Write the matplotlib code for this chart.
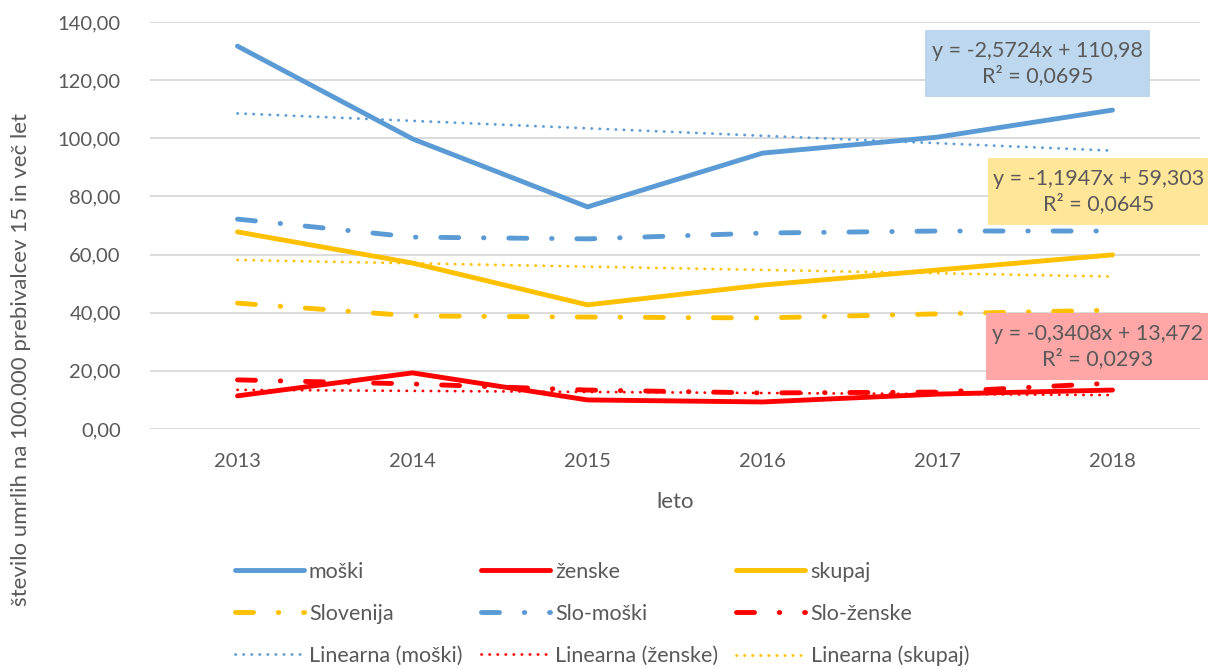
import matplotlib
matplotlib.use("Agg")
import matplotlib.pyplot as plt
import numpy as np
from matplotlib.lines import Line2D
from matplotlib.ticker import FuncFormatter

plt.rcParams['font.family'] = ['Lato', 'DejaVu Sans']

years = ["2013", "2014", "2015", "2016", "2017", "2018"]
moski = [131.7, 99.8, 76.4, 94.9, 100.4, 109.7]
zenske = [11.4, 19.3, 10.0, 9.3, 12.0, 13.4]
skupaj = [67.8, 57.1, 42.7, 49.5, 54.7, 59.9]
slovenija = [43.3, 38.9, 38.5, 38.2, 39.6, 40.9]
slo_moski = [72.2, 66.0, 65.4, 67.4, 68.1, 68.1]
slo_zenske = [16.9, 15.5, 13.4, 12.4, 12.7, 15.8]

eq_moski = "y = -2,5724x + 110,98\nR² = 0,0695"
eq_skupaj = "y = -1,1947x + 59,303\nR² = 0,0645"
eq_zenske = "y = -0,3408x + 13,472\nR² = 0,0293"

BLUE = "#5B9BD5"
RED = "#FF0000"
YEL = "#FFC000"
TXT = "#595959"

fig = plt.figure(figsize=(12.08, 6.70), dpi=100)
ax = fig.add_axes([150/1208, 1-429/670, (1200-150)/1208, (429-22)/670])

x = np.arange(len(years))
lw = 3.5
dd = (0, (3.7, 5.1, 0.1, 5.1))
tlw = 2.0
dot = (0, (0.1, 2.8))

def trend(vals):
    p = np.polyfit(x, vals, 1)
    return np.polyval(p, x)

ax.plot(x, slovenija, color=YEL, lw=lw, linestyle=dd, dash_capstyle='round', zorder=3)
ax.plot(x, slo_moski, color=BLUE, lw=lw, linestyle=dd, dash_capstyle='round', zorder=3)
ax.plot(x, slo_zenske, color=RED, lw=lw, linestyle=dd, dash_capstyle='round', zorder=3)
ax.plot(x, moski, color=BLUE, lw=lw, solid_capstyle='round', solid_joinstyle='round', zorder=4)
ax.plot(x, zenske, color=RED, lw=lw, solid_capstyle='round', solid_joinstyle='round', zorder=4)
ax.plot(x, skupaj, color=YEL, lw=lw, solid_capstyle='round', solid_joinstyle='round', zorder=4)
ax.plot(x, trend(moski), color=BLUE, lw=tlw, linestyle=dot, dash_capstyle='round', zorder=3)
ax.plot(x, trend(zenske), color=RED, lw=tlw, linestyle=dot, dash_capstyle='round', zorder=3)
ax.plot(x, trend(skupaj), color=YEL, lw=tlw, linestyle=dot, dash_capstyle='round', zorder=3)

ax.set_xlim(-0.5, len(years)-0.5)
ax.set_ylim(0, 140)
ax.set_yticks(np.arange(0, 141, 20))
ax.yaxis.set_major_formatter(FuncFormatter(lambda v, p: f"{v:.2f}".replace('.', ',')))
ax.set_xticks(x)
ax.set_xticklabels(years)
ax.grid(axis='y', color='#D9D9D9', lw=1.3)
ax.set_axisbelow(True)
for s in ax.spines.values():
    s.set_visible(False)
ax.tick_params(length=0, colors=TXT, labelsize=14.5)
ax.tick_params(axis='x', pad=17)
ax.tick_params(axis='y', pad=21)
ax.set_xlabel("leto", color=TXT, fontsize=16, labelpad=16)

fig.text(21/1208, 1-360/670, "število umrlih na 100.000 prebivalcev 15 in več let", rotation=90,
         ha='center', va='center', color=TXT, fontsize=16)

def box(x0, y0, x1, y1, txt, fc):
    fig.patches.append(plt.Rectangle((x0/1208, 1-y1/670), (x1-x0)/1208, (y1-y0)/670,
                                     transform=fig.transFigure, facecolor=fc, edgecolor='none', zorder=5))
    fig.text((x0+x1)/2/1208, 1-(y0+y1)/2/670, txt, ha='center', va='center', color=TXT, fontsize=15.5,
             linespacing=1.3, zorder=6)

box(925, 30, 1150, 97, eq_moski, "#BDD7EE")
box(988, 158, 1210, 225, eq_skupaj, "#FFE699")
box(986, 313, 1210, 380, eq_zenske, "#FFA7A7")

h = [
    Line2D([], [], color=BLUE, lw=lw, solid_capstyle='round'),
    Line2D([], [], color=YEL, lw=lw, linestyle=dd, dash_capstyle='round'),
    Line2D([], [], color=BLUE, lw=tlw, linestyle=dot, dash_capstyle='round'),
    Line2D([], [], color=RED, lw=lw, solid_capstyle='round'),
    Line2D([], [], color=BLUE, lw=lw, linestyle=dd, dash_capstyle='round'),
    Line2D([], [], color=RED, lw=tlw, linestyle=dot, dash_capstyle='round'),
    Line2D([], [], color=YEL, lw=lw, solid_capstyle='round'),
    Line2D([], [], color=RED, lw=lw, linestyle=dd, dash_capstyle='round'),
    Line2D([], [], color=YEL, lw=tlw, linestyle=dot, dash_capstyle='round'),
]
labels = ["moški", "Slovenija", "Linearna (moški)",
          "ženske", "Slo-moški", "Linearna (ženske)",
          "skupaj", "Slo-ženske", "Linearna (skupaj)"]
leg = fig.legend(h, labels, ncol=3, loc='upper left', bbox_to_anchor=(226/1208, 1-553/670),
                 frameon=False, fontsize=15.5, handlelength=3.2, handletextpad=0.25,
                 columnspacing=0.85, labelspacing=1.02, labelcolor=TXT, borderaxespad=0)

fig.savefig("out.png", dpi=100)
